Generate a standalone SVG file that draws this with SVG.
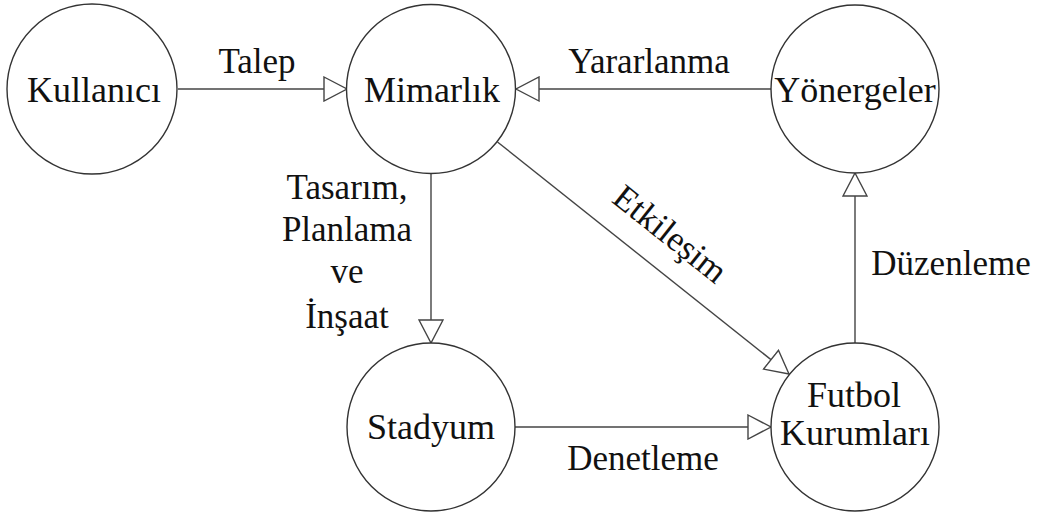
<svg xmlns="http://www.w3.org/2000/svg" width="1050" height="515" viewBox="0 0 1050 515">
<style>
.node{fill:#fff;stroke:#333;stroke-width:1.4}
.t{font-family:"Liberation Serif","Times New Roman",serif;font-size:36px;fill:#111;text-anchor:middle}
.l{font-family:"Liberation Serif","Times New Roman",serif;font-size:35px;fill:#111;text-anchor:middle}
.c{stroke:#444;stroke-width:1.4;fill:none;marker-end:url(#open)}
</style>
<defs>
<marker id="open" markerUnits="userSpaceOnUse" viewBox="-1 -1 25 26" markerWidth="25" markerHeight="26" refX="23" refY="12" orient="auto">
<path d="M0,0 L23,12 L0,24 Z" fill="#fff" stroke="#444" stroke-width="1.4"/>
</marker>
</defs>
<rect width="1050" height="515" fill="#fff"/>
<g id="connectors">
<line class="c" x1="178" y1="89" x2="347" y2="89"/>
<line class="c" x1="771" y1="89" x2="516" y2="89"/>
<line class="c" x1="431" y1="173" x2="431" y2="343"/>
<line class="c" x1="515" y1="427" x2="771" y2="427"/>
<line class="c" x1="855" y1="343" x2="855" y2="173"/>
<line class="c" x1="497.5" y1="142" x2="789" y2="374"/>
<text class="l" x="257" y="73">Talep</text>
<text class="l" x="649" y="73">Yararlanma</text>
<text class="l" x="347" y="199">Tasarım,</text>
<text class="l" x="347" y="241">Planlama</text>
<text class="l" x="347" y="283">ve</text>
<text class="l" x="347" y="328">İnşaat</text>
<text class="l" x="643" y="470">Denetleme</text>
<text class="l" x="951" y="275">Düzenleme</text>
<text class="l" transform="translate(663,243) rotate(38.6)">Etkileşim</text>
</g>
<g id="kullanici">
<circle class="node" cx="92" cy="89" r="85"/>
<text class="t" x="94" y="102">Kullanıcı</text>
</g>
<g id="mimarlik">
<circle class="node" cx="431" cy="89" r="84.5"/>
<text class="t" x="432" y="102">Mimarlık</text>
</g>
<g id="yonergeler">
<circle class="node" cx="855" cy="89" r="84"/>
<text class="t" x="855" y="102">Yönergeler</text>
</g>
<g id="stadyum">
<circle class="node" cx="431" cy="427" r="84"/>
<text class="t" x="431" y="439">Stadyum</text>
</g>
<g id="futbol">
<circle class="node" cx="855" cy="427" r="84"/>
<text class="t" x="854" y="407">Futbol</text>
<text class="t" x="855" y="445">Kurumları</text>
</g>
</svg>
